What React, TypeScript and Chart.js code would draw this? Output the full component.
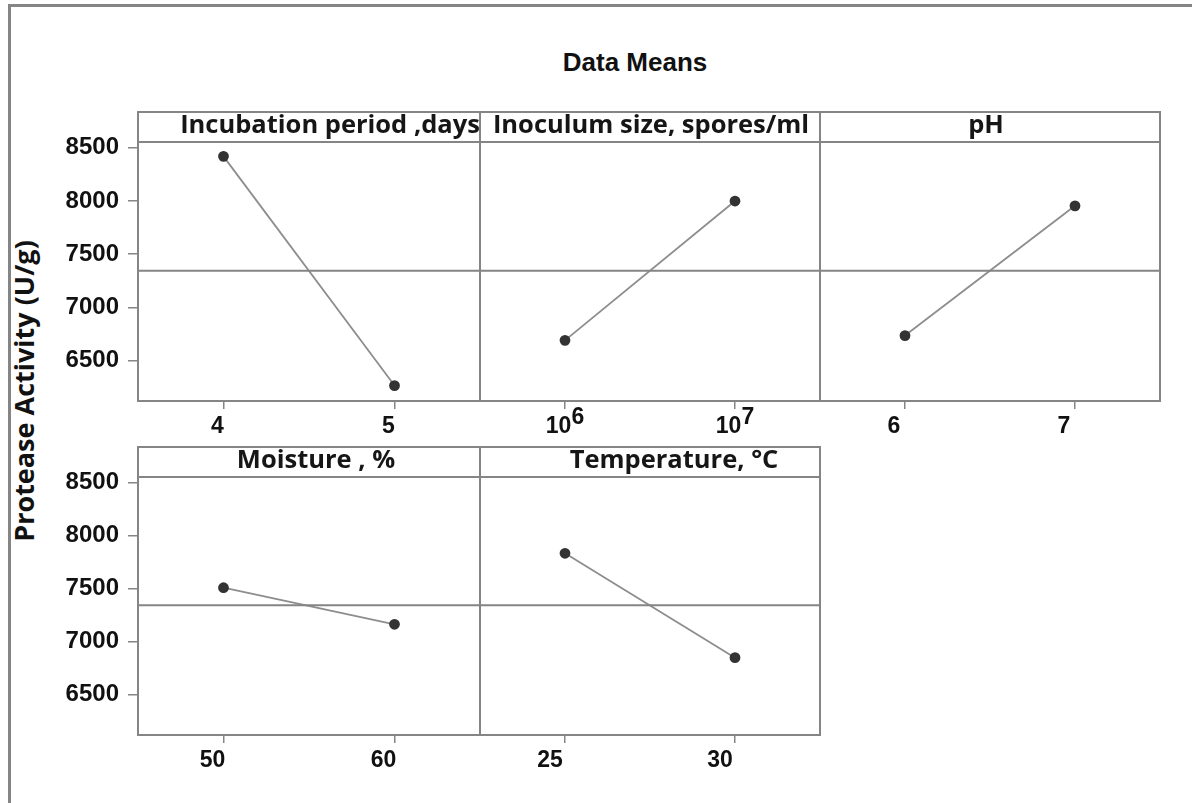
import React, { useEffect, useRef } from "react";
import { Chart, registerables } from "chart.js";

Chart.register(...registerables);

// ---------- data ----------
const TITLE = "Data Means";
const Y_TITLE = "Protease Activity (U/g)";
const FACTORS = [
  "Incubation period ,days",
  "Inoculum size, spores/ml",
  "pH",
  "Moisture , %",
  "Temperature, °C",
];
// "^" marks a superscript exponent
const LEVEL_LABELS = [
  ["4", "5"],
  ["10^6", "10^7"],
  ["6", "7"],
  ["50", "60"],
  ["25", "30"],
];
const INCUBATION_MEANS = [8420, 6265];
const INOCULUM_MEANS = [6690, 8000];
const PH_MEANS = [6735, 7955];
const MOISTURE_MEANS = [7510, 7165];
const TEMPERATURE_MEANS = [7835, 6850];
const FACTOR_MEANS = [INCUBATION_MEANS, INOCULUM_MEANS, PH_MEANS, MOISTURE_MEANS, TEMPERATURE_MEANS];
const GRAND_MEAN = 7345;
const Y_TICKS = [6500, 7000, 7500, 8000, 8500];
const Y_MIN = 6120;
const Y_MAX = 8555;

// ---------- layout / style ----------
const PANELS = [
  { left: 138, right: 480, top: 142, bottom: 401, yAxis: true, labelShift: -6, headerShift: 21 },
  { left: 480, right: 820, top: 142, bottom: 401, yAxis: false, labelShift: 0, headerShift: 1 },
  { left: 820, right: 1160, top: 142, bottom: 401, yAxis: false, labelShift: -11, headerShift: -4 },
  { left: 138, right: 480, top: 477, bottom: 735, yAxis: true, labelShift: -11, headerShift: 7 },
  { left: 480, right: 820, top: 477, bottom: 735, yAxis: false, labelShift: -15, headerShift: 24 },
];
const HEADER_H = 30;
const X_AXIS_H = 50;
const PAD = 3;
const FRAME = "#858585";
const HEADER_FONT = "bold 25.5px 'Open Sans', Lato, sans-serif";
const TICK_FONT_FAMILY = "'Liberation Sans', Arial, sans-serif";
const X_LABEL_FONT = `bold 23px ${TICK_FONT_FAMILY}`;

const panelFrame = {
  id: "panelFrame",
  afterDraw(chart: any, _args: any, opts: any) {
    const { ctx, chartArea } = chart;
    const { left, top, right, bottom } = chartArea;
    ctx.save();
    ctx.strokeStyle = FRAME;
    ctx.lineWidth = 2;
    ctx.strokeRect(left, top, right - left, bottom - top);
    ctx.strokeRect(left, top - HEADER_H, right - left, HEADER_H);
    ctx.fillStyle = "#161616";
    ctx.font = HEADER_FONT;
    ctx.textAlign = "center";
    ctx.textBaseline = "alphabetic";
    ctx.fillText(opts.text, (left + right) / 2 + opts.shift, top - 9);

    // category labels under the x ticks, placed by the x scale
    const xs = chart.scales.x;
    ctx.font = X_LABEL_FONT;
    ctx.fillStyle = "#111111";
    ctx.textAlign = "left";
    (opts.labels as string[]).forEach((lab, i) => {
      const [base, sup] = lab.split("^");
      const bw = ctx.measureText(base).width;
      const sw = sup ? ctx.measureText(sup).width : 0;
      const x0 = xs.getPixelForValue(i) + opts.labelShift - (bw + sw) / 2;
      const y0 = bottom + 32;
      ctx.fillText(base, x0, y0);
      if (sup) ctx.fillText(sup, x0 + bw, y0 - 9);
    });
    ctx.restore();
  },
};

function Panel({ idx }: { idx: number }) {
  const ref = useRef<HTMLCanvasElement>(null);
  const p = PANELS[idx];
  const canvasLeft = p.yAxis ? 0 : p.left - PAD;
  const canvasTop = p.top - HEADER_H - PAD;
  const width = p.right + PAD - canvasLeft;
  const height = p.bottom + X_AXIS_H - canvasTop;

  useEffect(() => {
    if (!ref.current) return;
    const chart = new Chart(ref.current, {
      type: "line",
      data: {
        datasets: [
          {
            data: [
              { x: -0.5, y: GRAND_MEAN },
              { x: 1.5, y: GRAND_MEAN },
            ],
            borderColor: FRAME,
            borderWidth: 2,
            pointRadius: 0,
          },
          {
            data: FACTOR_MEANS[idx].map((v, i) => ({ x: i, y: v })),
            borderColor: "#8d8d8d",
            borderWidth: 1.8,
            pointRadius: 4.5,
            pointBackgroundColor: "#333333",
            pointBorderColor: "#333333",
          },
        ],
      },
      options: {
        responsive: false,
        animation: false,
        layout: {
          autoPadding: false,
          padding: { left: p.yAxis ? 0 : PAD, right: PAD, top: HEADER_H + PAD, bottom: 0 },
        },
        plugins: {
          legend: { display: false },
          tooltip: { enabled: false },
          panelFrame: {
            text: FACTORS[idx],
            shift: p.headerShift,
            labels: LEVEL_LABELS[idx],
            labelShift: p.labelShift,
          },
        } as any,
        scales: {
          x: {
            type: "linear",
            min: -0.5,
            max: 1.5,
            afterBuildTicks: (s: any) => {
              s.ticks = [{ value: 0 }, { value: 1 }];
            },
            afterFit: (s: any) => {
              s.height = X_AXIS_H;
            },
            ticks: { display: false },
            grid: {
              drawOnChartArea: false,
              drawTicks: true,
              tickLength: 8,
              color: FRAME,
              lineWidth: 1.5,
            },
            border: { display: false },
          },
          y: {
            type: "linear",
            display: p.yAxis,
            min: Y_MIN,
            max: Y_MAX,
            afterBuildTicks: (s: any) => {
              s.ticks = Y_TICKS.map((v) => ({ value: v }));
            },
            afterFit: (s: any) => {
              s.width = p.yAxis ? p.left : 0;
            },
            ticks: {
              callback: (v: any) => String(v),
              font: { family: TICK_FONT_FAMILY, size: 24, weight: "bold" },
              color: "#111111",
              padding: 9,
            },
            grid: {
              drawOnChartArea: false,
              drawTicks: true,
              tickLength: 10,
              color: FRAME,
              lineWidth: 1.5,
            },
            border: { display: false },
          },
        },
      } as any,
      plugins: [panelFrame as any],
    });
    return () => chart.destroy();
  }, [idx]);

  return (
    <canvas
      ref={ref}
      width={width}
      height={height}
      style={{ position: "absolute", left: canvasLeft, top: canvasTop, width, height }}
    />
  );
}

export default function App() {
  return (
    <div
      style={{
        position: "absolute",
        left: 0,
        top: 0,
        width: 1192,
        height: 803,
        background: "#ffffff",
        overflow: "hidden",
      }}
    >
      <div
        style={{
          position: "absolute",
          left: 8,
          top: 4,
          width: 1200,
          height: 820,
          borderLeft: `3px solid ${FRAME}`,
          borderTop: `3px solid ${FRAME}`,
        }}
      />
      <div
        style={{
          position: "absolute",
          left: 485,
          top: 47,
          width: 300,
          textAlign: "center",
          font: "bold 26px 'Liberation Sans', Arial, sans-serif",
          lineHeight: "30px",
          color: "#111",
        }}
      >
        {TITLE}
      </div>
      <div
        style={{
          position: "absolute",
          left: 21 - 200,
          top: 391 - 16,
          width: 400,
          height: 32,
          lineHeight: "32px",
          textAlign: "center",
          transform: "rotate(-90deg)",
          transformOrigin: "50% 50%",
          font: "bold 27px 'Open Sans', Lato, sans-serif",
          color: "#111",
          whiteSpace: "nowrap",
        }}
      >
        {Y_TITLE}
      </div>
      {PANELS.map((_, i) => (
        <Panel key={i} idx={i} />
      ))}
    </div>
  );
}
